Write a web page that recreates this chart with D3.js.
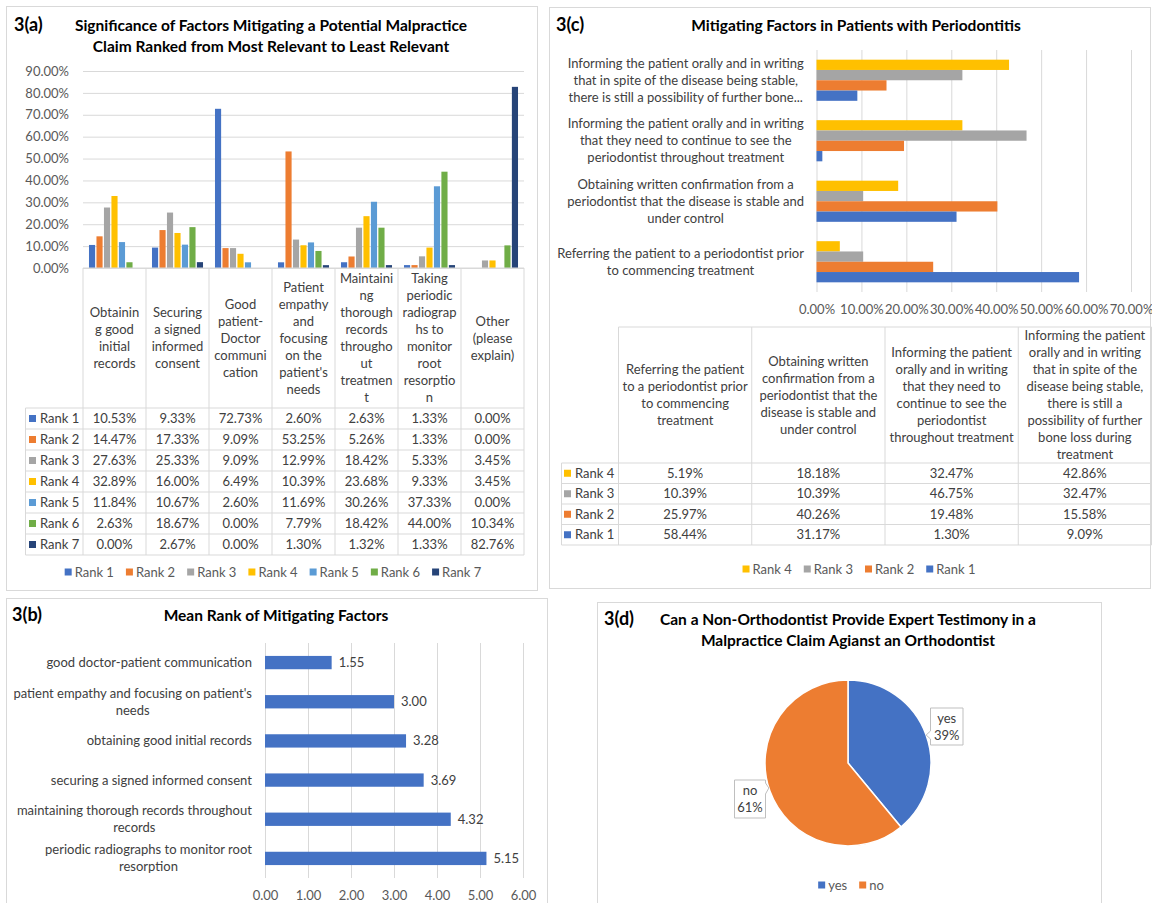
<!DOCTYPE html>
<meta charset="utf-8">
<style>
body { margin: 0; background: #fff; }
svg text { font-family: Lato, "Open Sans", sans-serif; }
</style>
<svg id="fig" width="1152" height="903"></svg>
<script src="https://cdn.jsdelivr.net/npm/d3@7"></script>
<script>

// ---- 3(a) data
var aHeaders = [
  ["Obtainin", "g good", "initial", "records"],
  ["Securing", "a signed", "informed", "consent"],
  ["Good", "patient-", "Doctor", "communi", "cation"],
  ["Patient", "empathy", "and", "focusing", "on the", "patient's", "needs"],
  ["Maintaini", "ng", "thorough", "records", "througho", "ut", "treatmen", "t"],
  ["Taking", "periodic", "radiograp", "hs to", "monitor", "root", "resorptio", "n"],
  ["Other", "(please", "explain)"]
];
var aRanks = ["Rank 1", "Rank 2", "Rank 3", "Rank 4", "Rank 5", "Rank 6", "Rank 7"];
var aValues = [
  [10.53, 9.33, 72.73, 2.60, 2.63, 1.33, 0.00],
  [14.47, 17.33, 9.09, 53.25, 5.26, 1.33, 0.00],
  [27.63, 25.33, 9.09, 12.99, 18.42, 5.33, 3.45],
  [32.89, 16.00, 6.49, 10.39, 23.68, 9.33, 3.45],
  [11.84, 10.67, 2.60, 11.69, 30.26, 37.33, 0.00],
  [2.63, 18.67, 0.00, 7.79, 18.42, 44.00, 10.34],
  [0.00, 2.67, 0.00, 1.30, 1.32, 1.33, 82.76]
];
var aTicks = [0, 10, 20, 30, 40, 50, 60, 70, 80, 90];
var aColors = ["#4472C4", "#ED7D31", "#A5A5A5", "#FFC000", "#5B9BD5", "#70AD47", "#264478"];

// ---- 3(b) data
var bLabels = [
  ["good doctor-patient communication"],
  ["patient empathy and focusing on patient's", "needs"],
  ["obtaining good initial records"],
  ["securing a signed informed consent"],
  ["maintaining thorough records throughout", "records"],
  ["periodic radiographs to monitor root", "resorption"]
];
var bValues = [1.55, 3.00, 3.28, 3.69, 4.32, 5.15];
var bTicks = [0, 1, 2, 3, 4, 5, 6];

// ---- 3(c) data (columns in table order)
var cAxisLabels = [
  ["Referring the patient to a periodontist prior", "to commencing treatment"],
  ["Obtaining written confirmation from a", "periodontist that the disease is stable and", "under control"],
  ["Informing the patient orally and in writing", "that they need to continue to see the", "periodontist throughout treatment"],
  ["Informing the patient orally and in writing", "that in spite of the disease being stable,", "there is still a possibility of further bone..."]
];
var cHeaders = [
  ["Referring the patient", "to a periodontist prior", "to commencing", "treatment"],
  ["Obtaining written", "confirmation from a", "periodontist that the", "disease is stable and", "under control"],
  ["Informing the patient", "orally and in writing", "that they need to", "continue to see the", "periodontist", "throughout treatment"],
  ["Informing the patient", "orally and in writing", "that in spite of the", "disease being stable,", "there is still a", "possibility of further", "bone loss during", "treatment"]
];
var cRanks = ["Rank 4", "Rank 3", "Rank 2", "Rank 1"];
var cValues = [
  [5.19, 18.18, 32.47, 42.86],
  [10.39, 10.39, 46.75, 32.47],
  [25.97, 40.26, 19.48, 15.58],
  [58.44, 31.17, 1.30, 9.09]
];
var cTicks = [0, 10, 20, 30, 40, 50, 60, 70];
var cColors = ["#FFC000", "#A5A5A5", "#ED7D31", "#4472C4"];

// ---- 3(d) data
var dLabels = ["yes", "no"];
var dValues = [39, 61];
var dColors = ["#4472C4", "#ED7D31"];

var svg = d3.select("#fig");
var lineCol = "#d9d9d9";
var txtCol = "#404040";
var fs = 13;

function box(x, y, w, h) {
  svg.append("rect").attr("x", x).attr("y", y).attr("width", w).attr("height", h)
    .attr("fill", "#fff").attr("stroke", lineCol);
}

function heading(tag, tx, lines, cx, y) {
  svg.append("text").attr("x", tx).attr("y", y).attr("font-size", 18)
    .attr("font-weight", "bold").attr("fill", "#000").text(tag);
  lines.forEach(function(s, i) {
    svg.append("text").attr("x", cx).attr("y", y + i * 20.5).attr("text-anchor", "middle")
      .attr("font-size", 15.5).attr("font-weight", "bold").attr("fill", "#000").text(s);
  });
}

// multi-line text block, lines centered, block centered on (x, cy)
function block(g, arr, x, cy, lh) {
  var t = g.append("text").attr("text-anchor", "middle").attr("font-size", fs).attr("fill", txtCol);
  arr.forEach(function(s, i) {
    t.append("tspan").attr("x", x).attr("y", cy + (i - (arr.length - 1) / 2) * lh)
      .attr("dy", "0.35em").text(s);
  });
  return t;
}

// block whose right edge sits at "right"
function blockRight(g, arr, right, cy, lh) {
  var t = block(g, arr, 0, cy, lh);
  var w = t.node().getBBox().width;
  t.attr("transform", "translate(" + (right - w / 2) + ",0)");
  return t;
}

function legend(items, colors, cx, y) {
  var g = svg.append("g");
  var x = 0;
  items.forEach(function(s, i) {
    g.append("rect").attr("x", x).attr("y", y - 3.5).attr("width", 7).attr("height", 7).attr("fill", colors[i]);
    var t = g.append("text").attr("x", x + 10).attr("y", y).attr("dy", "0.35em")
      .attr("font-size", fs).attr("fill", "#595959").text(s);
    x += 10 + t.node().getComputedTextLength() + 12;
  });
  x -= 12;
  g.attr("transform", "translate(" + (cx - x / 2) + ",0)");
}

function styleAxis(g) {
  g.select(".domain").remove();
  g.selectAll(".tick line").attr("stroke", lineCol);
  g.selectAll(".tick text").attr("fill", "#595959").attr("font-size", fs)
    .style("font-family", "Lato, 'Open Sans', sans-serif");
}

// ================= 3(a)
box(6.5, 6.5, 531, 584);
heading("3(a)", 14, ["Significance of Factors Mitigating a Potential Malpractice",
  "Claim Ranked from Most Relevant to Least Relevant"], 271, 31);

var ay = d3.scaleLinear().domain([0, 90]).range([268, 71]);
var ax0 = d3.scaleBand().domain(d3.range(aHeaders.length)).range([83, 524])
  .paddingInner(0.19).paddingOuter(0.095);
var ax1 = d3.scaleBand().domain(aRanks).range([0, ax0.bandwidth()]).paddingInner(0.18);

svg.append("g").attr("transform", "translate(83,0)")
  .call(d3.axisLeft(ay).tickValues(aTicks).tickSize(-441).tickPadding(14)
    .tickFormat(function(d) { return d.toFixed(2) + "%"; }))
  .call(styleAxis);

var ga = svg.append("g");
aRanks.forEach(function(r, i) {
  ga.selectAll(null).data(aValues[i]).enter().append("rect")
    .attr("x", function(d, j) { return ax0(j) + ax1(r); })
    .attr("y", function(d) { return ay(d); })
    .attr("width", ax1.bandwidth())
    .attr("height", function(d) { return ay(0) - ay(d); })
    .attr("fill", aColors[i]);
});

// table under 3(a)
var aStep = ax0.step();
var aLeft = 83, aTop = 268, aRowTop = 408, aRowH = 21, aTabLeft = 25.5;
var aRight = aLeft + aStep * aHeaders.length;
var gat = svg.append("g");
for (var j = 0; j <= aHeaders.length; j++) {
  gat.append("line").attr("x1", aLeft + j * aStep).attr("x2", aLeft + j * aStep)
    .attr("y1", aTop).attr("y2", aRowTop + aRowH * aRanks.length).attr("stroke", lineCol);
}
gat.append("line").attr("x1", aTabLeft).attr("x2", aTabLeft).attr("y1", aRowTop)
  .attr("y2", aRowTop + aRowH * aRanks.length).attr("stroke", lineCol);
gat.append("line").attr("x1", aLeft).attr("x2", aRight).attr("y1", aTop).attr("y2", aTop).attr("stroke", lineCol);
for (var k = 0; k <= aRanks.length; k++) {
  gat.append("line").attr("x1", aTabLeft).attr("x2", aRight)
    .attr("y1", aRowTop + k * aRowH).attr("y2", aRowTop + k * aRowH).attr("stroke", lineCol);
}
aHeaders.forEach(function(h, j) {
  block(gat, h, aLeft + (j + 0.5) * aStep, (aTop + aRowTop) / 2, 17);
});
aRanks.forEach(function(r, i) {
  var cy = aRowTop + (i + 0.5) * aRowH;
  gat.append("rect").attr("x", 29).attr("y", cy - 3.5).attr("width", 7).attr("height", 7).attr("fill", aColors[i]);
  gat.append("text").attr("x", 40).attr("y", cy).attr("dy", "0.35em").attr("font-size", fs)
    .attr("fill", txtCol).text(r);
  aValues[i].forEach(function(v, j) {
    gat.append("text").attr("x", aLeft + (j + 0.5) * aStep).attr("y", cy).attr("dy", "0.35em")
      .attr("text-anchor", "middle").attr("font-size", fs).attr("fill", txtCol).text(v.toFixed(2) + "%");
  });
});
legend(aRanks, aColors, 273, 572);

// ================= 3(c)
box(549.5, 7.5, 601, 581);
heading("3(c)", 556, ["Mitigating Factors in Patients with Periodontitis"], 856, 31);

var cx = d3.scaleLinear().domain([0, 70]).range([816.5, 1131]);
var cy0 = d3.scaleBand().domain([3, 2, 1, 0]).range([50, 292]).paddingInner(0.32).paddingOuter(0.16);
var cy1 = d3.scaleBand().domain(cRanks).range([0, cy0.bandwidth()]);

svg.append("g").attr("transform", "translate(0,292)")
  .call(d3.axisBottom(cx).tickValues(cTicks).tickSize(-242).tickPadding(13)
    .tickFormat(function(d) { return d.toFixed(2) + "%"; }))
  .call(styleAxis);

var gc = svg.append("g");
cRanks.forEach(function(r, i) {
  gc.selectAll(null).data(cValues[i]).enter().append("rect")
    .attr("x", cx(0))
    .attr("y", function(d, k) { return cy0(k) + cy1(r); })
    .attr("width", function(d) { return cx(d) - cx(0); })
    .attr("height", cy1.bandwidth())
    .attr("fill", cColors[i]);
});
cAxisLabels.forEach(function(l, k) {
  blockRight(gc, l, 804, cy0(k) + cy0.bandwidth() / 2, 17);
});

// table under 3(c)
var cCol = d3.scaleBand().domain(d3.range(cHeaders.length)).range([618.5, 1151.5]);
var cTop = 327, cRowTop = 463, cRowH = 20.5, cTabLeft = 561.5;
var cBottom = cRowTop + cRowH * cRanks.length;
var gct = svg.append("g");
for (var m = 0; m <= cHeaders.length; m++) {
  var xx = 618.5 + m * cCol.step();
  gct.append("line").attr("x1", xx).attr("x2", xx).attr("y1", cTop).attr("y2", cBottom).attr("stroke", lineCol);
}
gct.append("line").attr("x1", cTabLeft).attr("x2", cTabLeft).attr("y1", cRowTop).attr("y2", cBottom).attr("stroke", lineCol);
gct.append("line").attr("x1", 618.5).attr("x2", 1151.5).attr("y1", cTop).attr("y2", cTop).attr("stroke", lineCol);
for (var n = 0; n <= cRanks.length; n++) {
  gct.append("line").attr("x1", cTabLeft).attr("x2", 1151.5)
    .attr("y1", cRowTop + n * cRowH).attr("y2", cRowTop + n * cRowH).attr("stroke", lineCol);
}
cHeaders.forEach(function(h, k) {
  block(gct, h, cCol(k) + cCol.bandwidth() / 2, (cTop + cRowTop) / 2, 17);
});
cRanks.forEach(function(r, i) {
  var yy = cRowTop + (i + 0.5) * cRowH;
  gct.append("rect").attr("x", 564).attr("y", yy - 3.5).attr("width", 7).attr("height", 7).attr("fill", cColors[i]);
  gct.append("text").attr("x", 575).attr("y", yy).attr("dy", "0.35em").attr("font-size", fs)
    .attr("fill", txtCol).text(r);
  cValues[i].forEach(function(v, k) {
    gct.append("text").attr("x", cCol(k) + cCol.bandwidth() / 2).attr("y", yy).attr("dy", "0.35em")
      .attr("text-anchor", "middle").attr("font-size", fs).attr("fill", txtCol).text(v.toFixed(2) + "%");
  });
});
legend(cRanks, cColors, 859, 569);

// ================= 3(b)
box(6.5, 598.5, 541, 320);
heading("3(b)", 12, ["Mean Rank of Mitigating Factors"], 276, 621);

var bx = d3.scaleLinear().domain([0, 6]).range([265, 523]);
var by = d3.scaleBand().domain(d3.range(bValues.length)).range([643, 878]).paddingInner(0.66).paddingOuter(0.33);

svg.append("g").attr("transform", "translate(0,878)")
  .call(d3.axisBottom(bx).tickValues(bTicks).tickSize(-235).tickPadding(13)
    .tickFormat(d3.format(".2f")))
  .call(styleAxis);

var gb = svg.append("g");
gb.selectAll(null).data(bValues).enter().append("rect")
  .attr("x", bx(0))
  .attr("y", function(d, i) { return by(i); })
  .attr("width", function(d) { return bx(d) - bx(0); })
  .attr("height", by.bandwidth())
  .attr("fill", "#4472C4");
gb.selectAll(null).data(bValues).enter().append("text")
  .attr("x", function(d) { return bx(d) + 7; })
  .attr("y", function(d, i) { return by(i) + by.bandwidth() / 2; })
  .attr("dy", "0.35em").attr("font-size", fs).attr("fill", txtCol)
  .text(function(d) { return d.toFixed(2); });
bLabels.forEach(function(l, i) {
  blockRight(gb, l, 252, by(i) + by.bandwidth() / 2, 17);
});

// ================= 3(d)
box(597.5, 602.5, 504, 320);
heading("3(d)", 604, ["Can a Non-Orthodontist Provide Expert Testimony in a",
  "Malpractice Claim Agianst an Orthodontist"], 848, 625);

var pcx = 848, pcy = 763, pr = 83;
var pie = d3.pie().sort(null).value(function(d) { return d; });
var arc = d3.arc().innerRadius(0).outerRadius(pr);
var gd = svg.append("g").attr("transform", "translate(" + pcx + "," + pcy + ")");
gd.selectAll(null).data(pie(dValues)).enter().append("path")
  .attr("d", arc)
  .attr("fill", function(d, i) { return dColors[i]; })
  .attr("stroke", "#fff").attr("stroke-width", 1.5);

// callout labels (box offset from pie center, pointer side)
var callouts = [
  { bx: 82.5, by: -55, w: 32.5, h: 37, side: "left", py: -28 },
  { bx: -113.5, by: 17, w: 31, h: 38, side: "right", py: 25 }
];
var total = d3.sum(dValues);
callouts.forEach(function(c, i) {
  var x0 = c.bx, y0 = c.by, x1 = c.bx + c.w, y1 = c.by + c.h, p;
  var tipX = (c.side === "left" ? 1 : -1) * Math.sqrt(pr * pr - c.py * c.py);
  if (c.side === "left") {
    p = "M" + x0 + "," + y0 + "H" + x1 + "V" + y1 + "H" + x0 + "V" + (c.py + 4) +
      "L" + tipX + "," + c.py + "L" + x0 + "," + (c.py - 4) + "Z";
  } else {
    p = "M" + x0 + "," + y0 + "H" + x1 + "V" + (c.py - 5) + "L" + tipX + "," + c.py +
      "L" + x1 + "," + (c.py + 6) + "V" + y1 + "H" + x0 + "Z";
  }
  gd.append("path").attr("d", p).attr("fill", "#fff").attr("stroke", "#bfbfbf");
  block(gd, [dLabels[i], Math.round(dValues[i] / total * 100) + "%"], (x0 + x1) / 2, (y0 + y1) / 2, 17);
});
legend(dLabels, dColors, 851, 885);

</script>
</html>
